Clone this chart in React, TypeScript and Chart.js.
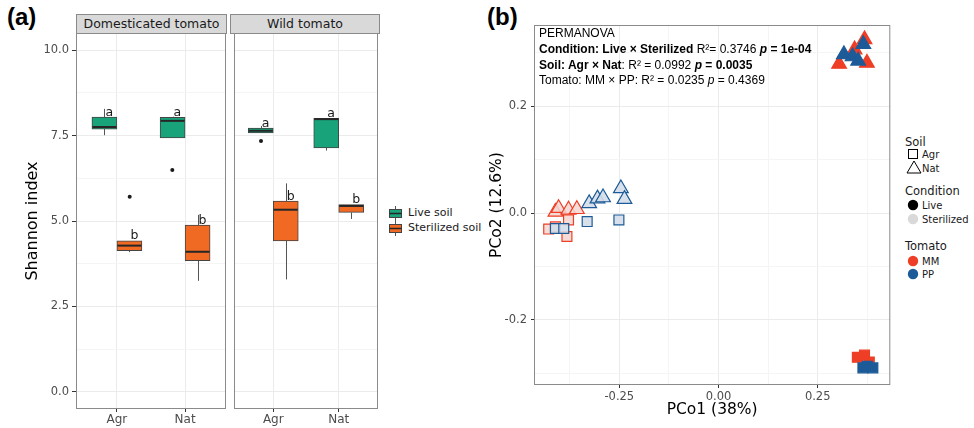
import React, { useEffect, useRef } from 'react';
import { Chart, registerables } from 'chart.js';

Chart.register(...registerables);

// ---------------- Panel (a) data ----------------
const SOILS = ['Agr', 'Nat'];
const FACETS = ['Domesticated tomato', 'Wild tomato'];
const CONDITIONS = ['Live soil', 'Sterilized soil'];
const LETTERS = ['a', 'b'];
const SHANNON_TICKS = [0, 2.5, 5, 7.5, 10];
const SHANNON_TICK_LABELS = ['0.0', '2.5', '5.0', '7.5', '10.0'];
const SHANNON_MINOR = [1.25, 3.75, 6.25, 8.75];
// [lower whisker, Q1, median, Q3, upper whisker] for Agr, Nat
const DOM_LIVE = [
  [7.51, 7.69, 7.75, 8.04, 8.28],
  [7.43, 7.43, 7.93, 8.03, 8.05],
];
const DOM_STER = [
  [4.09, 4.13, 4.28, 4.42, 4.42],
  [3.25, 3.84, 4.1, 4.88, 5.18],
];
const WILD_LIVE = [
  [7.58, 7.58, 7.64, 7.72, 7.78],
  [7.06, 7.14, 7.98, 8.0, 8.0],
];
const WILD_STER = [
  [3.29, 4.42, 5.33, 5.58, 6.1],
  [5.06, 5.25, 5.44, 5.48, 5.48],
];
// outliers: [soil index, condition index, value]
const DOM_OUT = [
  [0, 1, 5.71],
  [1, 0, 6.49],
];
const WILD_OUT = [[0, 0, 7.34]];

// ---------------- Panel (b) data ----------------
const PCO_X_TICKS = [-0.25, 0, 0.25];
const PCO_X_LABELS = ['-0.25', '0.00', '0.25'];
const PCO_X_MINOR = [-0.375, -0.125, 0.125, 0.375];
const PCO_Y_TICKS = [-0.2, 0, 0.2];
const PCO_Y_LABELS = ['-0.2', '0.0', '0.2'];
const PCO_Y_MINOR = [-0.3, -0.1, 0.1, 0.3];

const MM_LIVE_NAT = [[0.304, 0.279], [0.343, 0.306], [0.368, 0.325], [0.374, 0.281]];
const PP_LIVE_NAT = [[0.316, 0.297], [0.338, 0.293], [0.365, 0.316], [0.352, 0.285]];
const MM_LIVE_AGR = [[0.35, -0.27], [0.368, -0.266], [0.38, -0.279]];
const PP_LIVE_AGR = [[0.364, -0.29], [0.375, -0.287], [0.389, -0.29]];
const MM_STER_NAT = [[-0.411, 0.002], [-0.403, 0.009], [-0.378, 0.006], [-0.357, 0.007]];
const MM_STER_AGR = [[-0.428, -0.03], [-0.411, -0.026], [-0.378, -0.013], [-0.382, -0.044]];
const PP_STER_AGR = [[-0.411, -0.029], [-0.39, -0.029], [-0.331, -0.016], [-0.251, -0.013]];
const PP_STER_NAT = [[-0.326, 0.018], [-0.305, 0.027], [-0.291, 0.029], [-0.246, 0.046], [-0.237, 0.026]];

// ---------------- styles ----------------
const GREEN = '#19a37b';
const ORANGE = '#f06a24';
const MM_RED = '#ee3e26';
const PP_BLUE = '#1c5b98';
const MM_STER_FILL = 'rgba(244, 214, 208, 0.85)';
const PP_STER_FILL = 'rgba(212, 222, 233, 0.9)';
const BORDER = '#8a8a8a';
const GRID_MAJOR = '#ebebeb';
const GRID_MINOR = '#f5f5f5';
const TICK_COLOR = '#4d4d4d';
const GG_FONT = '"DejaVu Sans", Verdana, sans-serif';
const ARIAL = '"Liberation Sans", Arial, sans-serif';
const DODGE = 0.1875;
const BOX_PX = 25;

const panelBorder = {
  id: 'panelBorder',
  afterDatasetsDraw(chart: any) {
    const { ctx, chartArea: a } = chart;
    ctx.save();
    ctx.strokeStyle = BORDER;
    ctx.lineWidth = 1;
    ctx.strokeRect(a.left + 0.5, a.top + 0.5, a.right - a.left - 1, a.bottom - a.top - 1);
    ctx.restore();
  },
};

function makeBoxChart(canvas: HTMLCanvasElement, live: number[][], ster: number[][], outliers: number[][], withY: boolean) {
  const stats = [live, ster];
  const boxParts = {
    id: 'boxParts',
    beforeDatasetsDraw(chart: any) {
      const { ctx } = chart;
      const y = chart.scales.y;
      ctx.save();
      ctx.strokeStyle = '#555';
      ctx.lineWidth = 1;
      [0, 1].forEach((ci) => {
        chart.getDatasetMeta(ci).data.forEach((bar: any, si: number) => {
          const s = stats[ci][si];
          const x = Math.round(bar.x) + 0.5;
          ctx.beginPath();
          ctx.moveTo(x, y.getPixelForValue(s[0]));
          ctx.lineTo(x, y.getPixelForValue(s[1]));
          ctx.moveTo(x, y.getPixelForValue(s[3]));
          ctx.lineTo(x, y.getPixelForValue(s[4]));
          ctx.stroke();
        });
      });
      ctx.restore();
    },
    afterDatasetsDraw(chart: any) {
      const { ctx } = chart;
      const y = chart.scales.y;
      ctx.save();
      [0, 1].forEach((ci) => {
        chart.getDatasetMeta(ci).data.forEach((bar: any, si: number) => {
          const s = stats[ci][si];
          const yp = y.getPixelForValue(s[2]);
          ctx.strokeStyle = '#262626';
          ctx.lineWidth = 2;
          ctx.beginPath();
          ctx.moveTo(bar.x - bar.width / 2 + 0.5, yp);
          ctx.lineTo(bar.x + bar.width / 2 - 0.5, yp);
          ctx.stroke();
          ctx.fillStyle = '#1a1a1a';
          ctx.font = `12.5px ${GG_FONT}`;
          ctx.textAlign = 'left';
          ctx.textBaseline = 'alphabetic';
          ctx.fillText(LETTERS[ci], bar.x + 1, y.getPixelForValue(s[3]) - 1.5);
        });
      });
      ctx.restore();
    },
  };

  const yTicks = [...SHANNON_TICKS, ...SHANNON_MINOR].sort((a, b) => a - b);

  return new Chart(canvas, {
    type: 'bar',
    data: {
      datasets: [
        {
          label: CONDITIONS[0],
          data: SOILS.map((_, i) => ({ x: i + 1, y: [live[i][1], live[i][3]] })),
          backgroundColor: GREEN,
          borderColor: '#444',
          borderWidth: 1,
          borderSkipped: false,
          barThickness: BOX_PX,
        },
        {
          label: CONDITIONS[1],
          data: SOILS.map((_, i) => ({ x: i + 1, y: [ster[i][1], ster[i][3]] })),
          backgroundColor: ORANGE,
          borderColor: '#444',
          borderWidth: 1,
          borderSkipped: false,
          barThickness: BOX_PX,
        },
        {
          type: 'scatter',
          label: 'outliers',
          data: outliers.map(([s, c, v]) => ({ x: s + 1 + (c === 0 ? -DODGE : DODGE), y: v })),
          pointRadius: 2,
          backgroundColor: '#1a1a1a',
          borderWidth: 0,
        },
      ] as any,
    },
    options: {
      animation: false,
      responsive: false,
      events: [],
      layout: { padding: { left: 0, top: 33, right: withY ? 3 : 2, bottom: 0 } },
      plugins: { legend: { display: false }, tooltip: { enabled: false } },
      scales: {
        x: {
          type: 'linear',
          min: 0.4,
          max: 2.6,
          offset: false,
          afterBuildTicks: (s: any) => {
            s.ticks = SOILS.map((_, i) => ({ value: i + 1 }));
          },
          afterFit: (s: any) => {
            s.height = 19;
          },
          ticks: {
            autoSkip: false,
            maxRotation: 0,
            padding: 1,
            color: TICK_COLOR,
            font: { family: GG_FONT, size: 12 },
            callback: (v: any) => SOILS[Math.round(v) - 1],
          },
          grid: { offset: false, color: GRID_MAJOR, tickColor: '#333', tickLength: 3 },
          border: { display: false },
        },
        y: {
          type: 'linear',
          min: -0.5,
          max: 10.5,
          afterBuildTicks: (s: any) => {
            s.ticks = yTicks.map((v) => ({ value: v }));
          },
          afterFit: (s: any) => {
            s.width = withY ? 76 : 0;
          },
          ticks: {
            display: withY,
            autoSkip: false,
            padding: 3,
            color: TICK_COLOR,
            font: { family: GG_FONT, size: 11.5 },
            callback: (v: any) => {
              const i = SHANNON_TICKS.indexOf(v);
              return i >= 0 ? SHANNON_TICK_LABELS[i] : '';
            },
          },
          grid: {
            color: (c: any) => (SHANNON_MINOR.includes(c.tick?.value) ? GRID_MINOR : GRID_MAJOR),
            tickColor: (c: any) => (SHANNON_MINOR.includes(c.tick?.value) ? 'rgba(0,0,0,0)' : '#333'),
            tickLength: 4,
            drawTicks: withY,
          },
          border: { display: false },
          title: {
            display: withY,
            text: 'Shannon index',
            color: '#000',
            font: { family: GG_FONT, size: 16 },
            padding: { top: 23, bottom: 0 },
          },
        },
      },
    } as any,
    plugins: [boxParts, panelBorder],
  });
}

function makePcoaChart(canvas: HTMLCanvasElement) {
  // drawing order: first listed is drawn first (underneath)
  const groups = [
    { label: 'MM Sterilized Agr', pts: MM_STER_AGR, style: 'rect', fill: MM_STER_FILL, line: MM_RED },
    { label: 'MM Sterilized Nat', pts: MM_STER_NAT, style: 'triangle', fill: MM_STER_FILL, line: MM_RED },
    { label: 'PP Sterilized Agr', pts: PP_STER_AGR, style: 'rect', fill: PP_STER_FILL, line: PP_BLUE },
    { label: 'PP Sterilized Nat', pts: PP_STER_NAT, style: 'triangle', fill: PP_STER_FILL, line: PP_BLUE },
    { label: 'MM Live Agr', pts: MM_LIVE_AGR, style: 'rect', fill: MM_RED, line: MM_RED },
    { label: 'MM Live Nat', pts: MM_LIVE_NAT, style: 'triangle', fill: MM_RED, line: MM_RED },
    { label: 'PP Live Agr', pts: PP_LIVE_AGR, style: 'rect', fill: PP_BLUE, line: PP_BLUE },
    { label: 'PP Live Nat', pts: PP_LIVE_NAT, style: 'triangle', fill: PP_BLUE, line: PP_BLUE },
  ];
  const datasets = groups
    .map((g) => ({
      label: g.label,
      data: g.pts.map(([x, y]) => ({ x, y })),
      pointStyle: g.style,
      pointRadius: g.style === 'triangle' ? 8.5 : 7,
      backgroundColor: g.fill,
      borderColor: g.line,
      borderWidth: 1.2,
    }))
    .reverse();

  const xTicks = [...PCO_X_TICKS, ...PCO_X_MINOR].sort((a, b) => a - b);
  const yTicks = [...PCO_Y_TICKS, ...PCO_Y_MINOR].sort((a, b) => a - b);

  return new Chart(canvas, {
    type: 'scatter',
    data: { datasets } as any,
    options: {
      animation: false,
      responsive: false,
      events: [],
      layout: { padding: { left: 0, top: 25, right: 4, bottom: 0 } },
      plugins: { legend: { display: false }, tooltip: { enabled: false } },
      scales: {
        x: {
          type: 'linear',
          min: -0.465,
          max: 0.433,
          afterBuildTicks: (s: any) => {
            s.ticks = xTicks.map((v) => ({ value: v }));
          },
          afterFit: (s: any) => {
            s.height = 43;
          },
          ticks: {
            autoSkip: false,
            maxRotation: 0,
            padding: 2,
            color: TICK_COLOR,
            font: { family: GG_FONT, size: 11.5 },
            callback: (v: any) => {
              const i = PCO_X_TICKS.indexOf(v);
              return i >= 0 ? PCO_X_LABELS[i] : '';
            },
          },
          grid: {
            color: (c: any) => (PCO_X_MINOR.includes(c.tick?.value) ? GRID_MINOR : GRID_MAJOR),
            tickColor: (c: any) => (PCO_X_MINOR.includes(c.tick?.value) ? 'rgba(0,0,0,0)' : '#333'),
            tickLength: 3,
          },
          border: { display: false },
          title: {
            display: true,
            text: 'PCo1 (38%)',
            color: '#000',
            font: { family: GG_FONT, size: 15.5 },
            padding: { top: 0, bottom: 8.7 },
          },
        },
        y: {
          type: 'linear',
          min: -0.322,
          max: 0.352,
          afterBuildTicks: (s: any) => {
            s.ticks = yTicks.map((v) => ({ value: v }));
          },
          afterFit: (s: any) => {
            s.width = 54;
          },
          ticks: {
            autoSkip: false,
            padding: 4,
            color: TICK_COLOR,
            font: { family: GG_FONT, size: 11.5 },
            callback: (v: any) => {
              const i = PCO_Y_TICKS.indexOf(v);
              return i >= 0 ? PCO_Y_LABELS[i] : '';
            },
          },
          grid: {
            color: (c: any) => (PCO_Y_MINOR.includes(c.tick?.value) ? GRID_MINOR : GRID_MAJOR),
            tickColor: (c: any) => (PCO_Y_MINOR.includes(c.tick?.value) ? 'rgba(0,0,0,0)' : '#333'),
            tickLength: 3,
          },
          border: { display: false },
          title: {
            display: true,
            text: 'PCo2 (12.6%)',
            color: '#000',
            font: { family: GG_FONT, size: 15.5 },
            padding: { top: 7.7, bottom: 0 },
          },
        },
      },
    } as any,
    plugins: [panelBorder],
  });
}

function ChartCanvas(props: { left: number; top: number; width: number; height: number; make: (c: HTMLCanvasElement) => Chart }) {
  const ref = useRef<HTMLCanvasElement>(null);
  useEffect(() => {
    const chart = props.make(ref.current as HTMLCanvasElement);
    return () => chart.destroy();
  }, []);
  return (
    <canvas
      ref={ref}
      width={props.width}
      height={props.height}
      style={{ position: 'absolute', left: props.left, top: props.top, width: props.width, height: props.height }}
    />
  );
}

const txt = (left: number, cy: number, size: number, extra: React.CSSProperties = {}): React.CSSProperties => ({
  position: 'absolute',
  left,
  top: cy - size * 0.65,
  fontSize: size,
  lineHeight: `${size * 1.3}px`,
  fontFamily: GG_FONT,
  color: '#1a1a1a',
  whiteSpace: 'nowrap',
  ...extra,
});

function BoxKey({ left, top, fill }: { left: number; top: number; fill: string }) {
  return (
    <svg width={15} height={15} style={{ position: 'absolute', left, top }}>
      <line x1={7.5} y1={0} x2={7.5} y2={15} stroke="#555" strokeWidth={1} />
      <rect x={1.5} y={3.5} width={12} height={8} fill={fill} stroke="#444" strokeWidth={1} />
      <line x1={1.5} y1={7.5} x2={13.5} y2={7.5} stroke="#262626" strokeWidth={1.5} />
    </svg>
  );
}

function Strip({ left, width, label }: { left: number; width: number; label: string }) {
  return (
    <div
      style={{
        position: 'absolute',
        left,
        top: 14,
        width,
        height: 20,
        boxSizing: 'border-box',
        border: `1px solid ${BORDER}`,
        background: '#d9d9d9',
        fontFamily: GG_FONT,
        fontSize: 12.5,
        lineHeight: '18px',
        textAlign: 'center',
        color: '#1a1a1a',
        whiteSpace: 'nowrap',
      }}
    >
      {label}
    </div>
  );
}

export default function App() {
  const lineStyle: React.CSSProperties = { height: 15.8, whiteSpace: 'nowrap' };
  const panelLabel = (left: number): React.CSSProperties => ({
    position: 'absolute',
    left,
    top: 2,
    fontFamily: ARIAL,
    fontWeight: 700,
    fontSize: 24,
    lineHeight: '30px',
    color: '#000',
  });
  return (
    <div
      style={{
        position: 'absolute',
        left: 0,
        top: 0,
        width: 974,
        height: 428,
        background: '#fff',
        overflow: 'hidden',
      }}
    >
      {/* Panel (a) */}
      <div style={panelLabel(7)}>(a)</div>
      <ChartCanvas left={0} top={0} width={230} height={428} make={(c) => makeBoxChart(c, DOM_LIVE, DOM_STER, DOM_OUT, true)} />
      <ChartCanvas left={230} top={0} width={152} height={428} make={(c) => makeBoxChart(c, WILD_LIVE, WILD_STER, WILD_OUT, false)} />
      <Strip left={76} width={151} label={FACETS[0]} />
      <Strip left={230} width={150} label={FACETS[1]} />
      <BoxKey left={388} top={206} fill={GREEN} />
      <BoxKey left={388} top={221} fill={ORANGE} />
      <div style={txt(408, 213.5, 11)}>{CONDITIONS[0]}</div>
      <div style={txt(408, 228.5, 11)}>{CONDITIONS[1]}</div>

      {/* Panel (b) */}
      <div style={panelLabel(487)}>(b)</div>
      <ChartCanvas left={480} top={0} width={420} height={428} make={makePcoaChart} />
      <div style={{ position: 'absolute', left: 539, top: 26, fontFamily: ARIAL, fontSize: 12, lineHeight: '15.8px', color: '#000' }}>
        <div style={lineStyle}>PERMANOVA</div>
        <div style={lineStyle}>
          <b>Condition: Live × Sterilized</b> R²= 0.3746 <b><i>p</i> = 1e-04</b>
        </div>
        <div style={lineStyle}>
          <b>Soil: Agr × Nat</b>: R² = 0.0992 <b><i>p</i> = 0.0035</b>
        </div>
        <div style={lineStyle}>
          Tomato: MM × PP: R² = 0.0235 <i>p</i> = 0.4369
        </div>
      </div>

      {/* Legend (b) */}
      <div style={txt(905, 142, 11.5)}>Soil</div>
      <svg width={12} height={12} style={{ position: 'absolute', left: 907, top: 148 }}>
        <rect x={1.5} y={1.5} width={9} height={9} fill="none" stroke="#000" strokeWidth={1} />
      </svg>
      <div style={txt(922, 154, 10)}>Agr</div>
      <svg width={16} height={14} style={{ position: 'absolute', left: 905.5, top: 160 }}>
        <polygon points="8,1 15,13 1,13" fill="none" stroke="#000" strokeWidth={1} />
      </svg>
      <div style={txt(922, 168, 10)}>Nat</div>

      <div style={txt(905, 191, 11.5)}>Condition</div>
      <svg width={12} height={12} style={{ position: 'absolute', left: 907, top: 199 }}>
        <circle cx={6} cy={6} r={5.2} fill="#000" />
      </svg>
      <div style={txt(922, 205, 10)}>Live</div>
      <svg width={12} height={12} style={{ position: 'absolute', left: 907, top: 213 }}>
        <circle cx={6} cy={6} r={5.2} fill="#d9d9d9" />
      </svg>
      <div style={txt(922, 219, 10)}>Sterilized</div>

      <div style={txt(905, 246, 11.5)}>Tomato</div>
      <svg width={12} height={12} style={{ position: 'absolute', left: 907, top: 255 }}>
        <circle cx={6} cy={6} r={5.2} fill={MM_RED} />
      </svg>
      <div style={txt(922, 261, 10)}>MM</div>
      <svg width={12} height={12} style={{ position: 'absolute', left: 907, top: 268 }}>
        <circle cx={6} cy={6} r={5.2} fill={PP_BLUE} />
      </svg>
      <div style={txt(922, 274, 10)}>PP</div>
    </div>
  );
}
